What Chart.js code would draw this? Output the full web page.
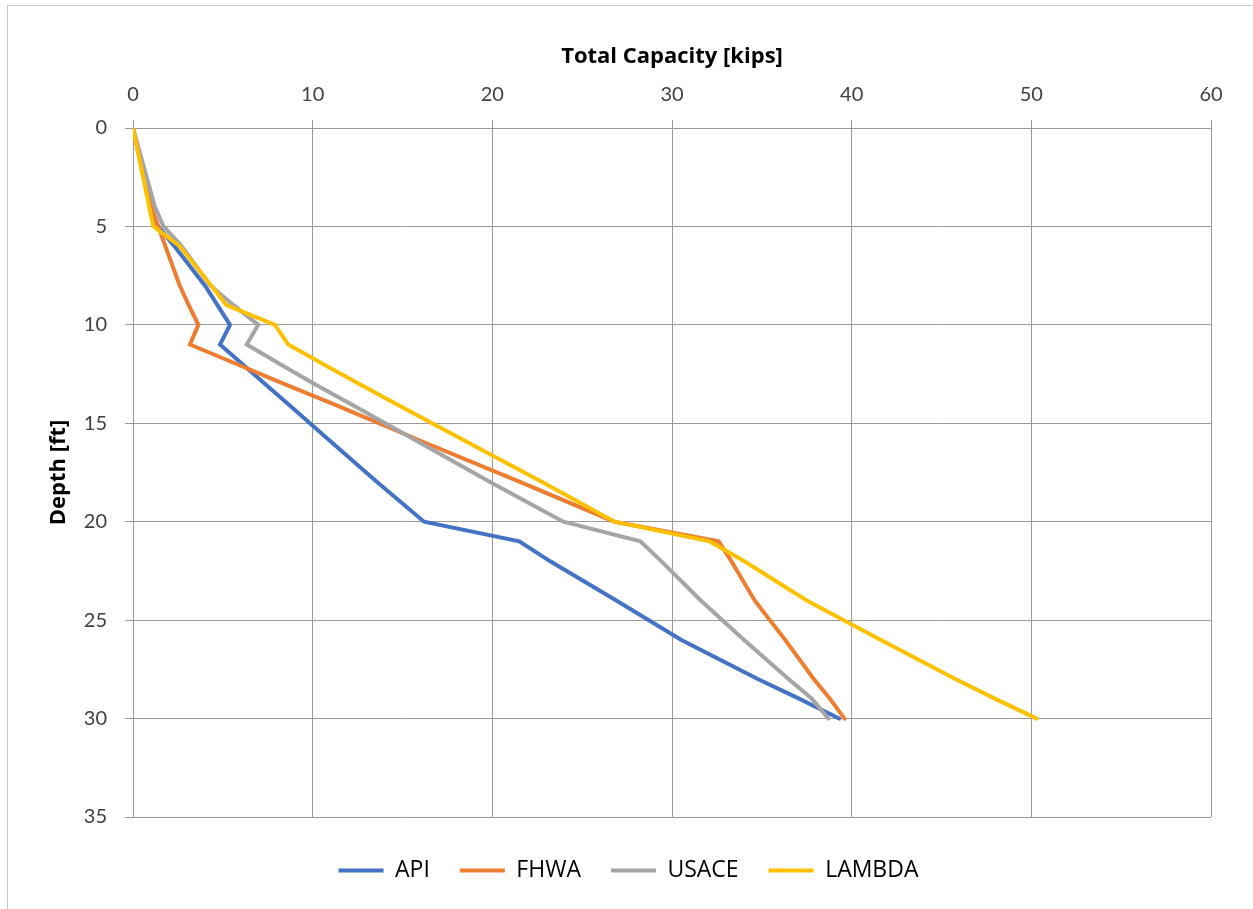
<!DOCTYPE html>
<html>
<head>
<meta charset="utf-8">
<script src="https://cdn.jsdelivr.net/npm/chart.js@4.4.0/dist/chart.umd.min.js"></script>
<style>
  html, body { margin: 0; padding: 0; background: #fff; }
  #frame {
    position: absolute; left: 7px; top: 5px; width: 1300px; height: 960px;
    border-left: 1px solid #c8c8c8; border-top: 1px solid #c8c8c8;
  }
  #chart { position: absolute; left: 0; top: 0; }
</style>
</head>
<body>
<div id="frame"></div>
<canvas id="chart" width="1253" height="909"></canvas>
<script>
// depth points [ft] shared by all methods
const depths = [0, 4, 5, 6, 8, 9, 10, 11, 12, 13, 14, 16, 18, 20, 21, 22, 24, 26, 28, 29, 30];

// total capacity [kips] at each depth
const api    = [0, 0.95, 1.4, 2.3, 4.0, 4.7, 5.4, 4.84, 6.1, 7.35, 8.6, 11.1, 13.6, 16.2, 21.5, 23.2, 26.9, 30.5, 34.8, 37.1, 39.3];
const fhwa   = [0, 1.0, 1.41, 1.8, 2.6, 3.1, 3.64, 3.17, 5.8, 8.4, 11.1, 16.3, 21.6, 26.8, 32.6, 33.3, 34.6, 36.3, 37.9, 38.8, 39.6];
const usace  = [0, 1.22, 1.7, 2.7, 4.3, 5.6, 6.97, 6.33, 8.2, 10.1, 12.07, 16.0, 19.9, 23.95, 28.24, 29.4, 31.6, 34.0, 36.5, 37.8, 38.7];
const lambda = [0, 0.9, 1.13, 2.6, 4.35, 5.2, 7.9, 8.64, 10.6, 12.6, 14.6, 18.7, 22.8, 26.8, 32.1, 34.0, 37.5, 41.6, 45.8, 48.0, 50.3];

const seriesNames = ['API', 'FHWA', 'USACE', 'LAMBDA'];
const seriesColors = ['#4472C4', '#ED7D31', '#A5A5A5', '#FFC000'];
const seriesValues = [api, fhwa, usace, lambda];

const TICK_FONT = "Lato, 'Open Sans', sans-serif";
const TEXT_FONT = "'Open Sans', Lato, sans-serif";

function toPoints(values) {
    return values.map((v, i) => ({ x: v, y: depths[i] }));
}

const datasets = seriesNames.map((name, i) => ({
    label: name,
    data: toPoints(seriesValues[i]),
    borderColor: seriesColors[i],
    backgroundColor: seriesColors[i],
    borderWidth: 4,
    borderCapStyle: 'round',
    borderJoinStyle: 'miter',
    showLine: true,
    pointRadius: 0,
    pointHoverRadius: 0,
    tension: 0,
    // later series drawn on top, like the spreadsheet
    order: seriesNames.length - i
}));

const ctx = document.getElementById('chart').getContext('2d');
new Chart(ctx, {
    type: 'scatter',
    data: { datasets },
    options: {
        responsive: false,
        devicePixelRatio: 1,
        animation: false,
        layout: { padding: { left: 46, right: 42, top: 44, bottom: 17 } },
        scales: {
            x: {
                type: 'linear',
                position: 'top',
                min: 0, max: 60,
                ticks: { stepSize: 10, color: '#404040', font: { family: TICK_FONT, size: 20 }, padding: 13 },
                grid: { color: '#999999', lineWidth: 1, tickLength: 8 },
                border: { color: '#999999' },
                title: { display: true, text: 'Total Capacity [kips]', color: '#000', font: { family: TEXT_FONT, size: 22, weight: 'bold' }, padding: { top: 0, bottom: 4 } },
                afterFit: (scale) => { scale.height = 84; }
            },
            y: {
                type: 'linear',
                reverse: true,
                min: 0, max: 35,
                ticks: { stepSize: 5, color: '#404040', font: { family: TICK_FONT, size: 20 }, padding: 18 },
                grid: { color: '#999999', lineWidth: 1, tickLength: 8 },
                border: { color: '#999999' },
                title: { display: true, text: 'Depth [ft]', color: '#000', font: { family: TEXT_FONT, size: 22, weight: 'bold' }, padding: 0 },
                afterFit: (scale) => { scale.width = 87; }
            }
        },
        plugins: {
            tooltip: { enabled: false },
            legend: {
                position: 'bottom',
                // empty title only adds room above the legend row
                title: { display: true, text: '', font: { size: 10 }, padding: 0 },
                labels: {
                    color: '#000',
                    font: { family: TEXT_FONT, size: 23 },
                    usePointStyle: true,
                    pointStyle: 'line',
                    pointStyleWidth: 45,
                    padding: 30,
                    sort: (a, b) => a.datasetIndex - b.datasetIndex
                }
            }
        }
    }
});
</script>
</body>
</html>
